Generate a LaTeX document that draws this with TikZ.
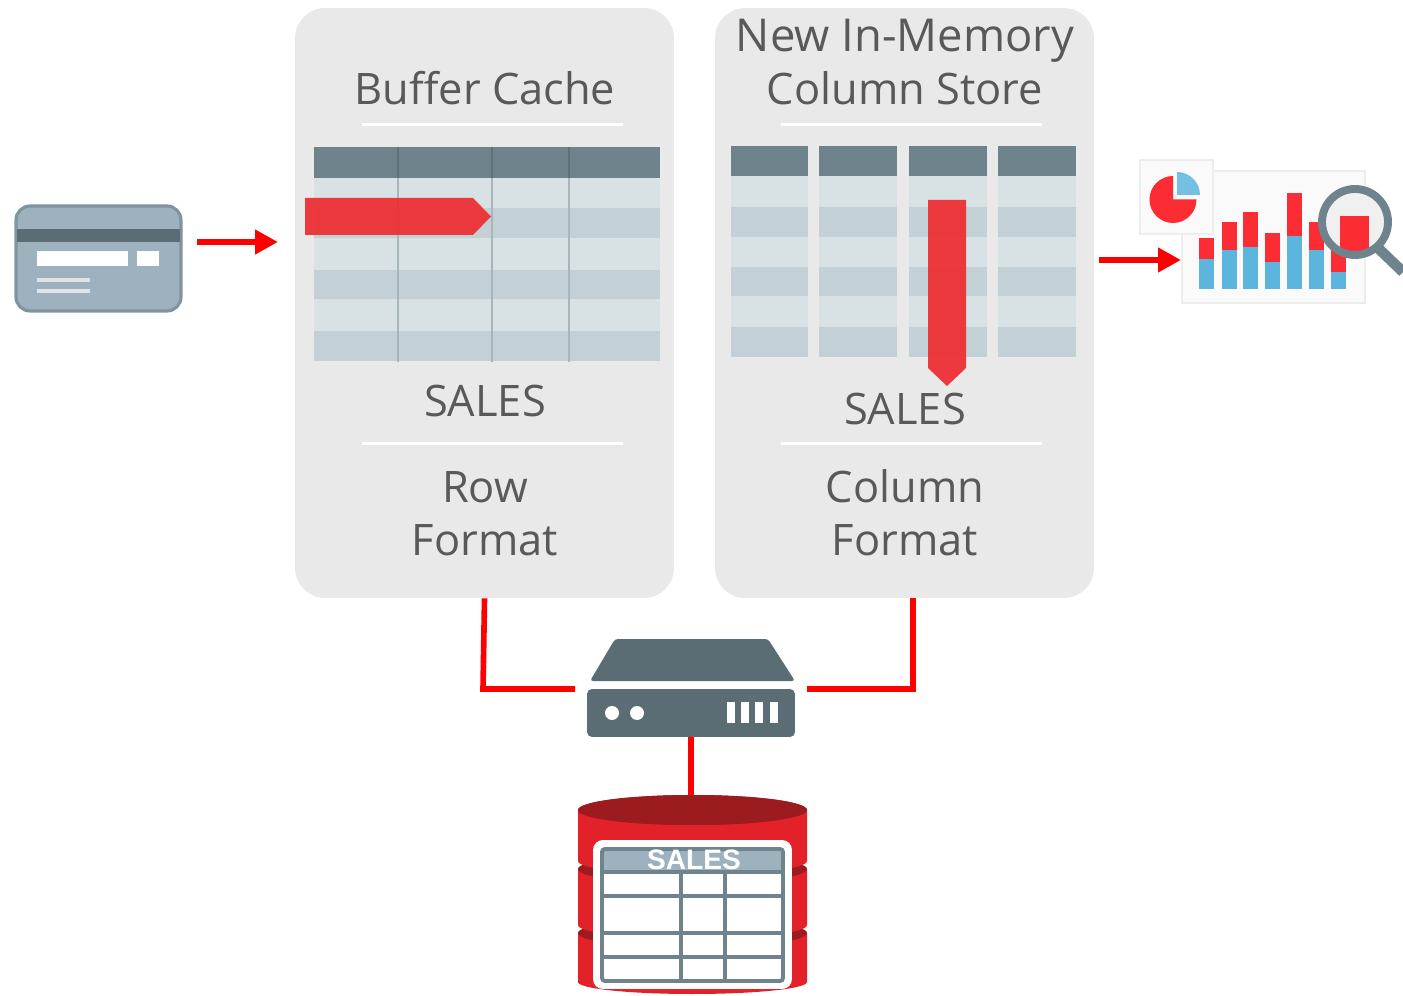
\documentclass[tikz,border=0pt]{standalone}
\usepackage{fontspec}
\setmainfont{Open Sans}
\newfontfamily\tablefont{Liberation Sans}
\usetikzlibrary{arrows.meta,shapes.geometric}
\definecolor{panelgrey}{HTML}{E9E9E9}
\definecolor{inkgrey}{HTML}{595959}
\definecolor{headslate}{HTML}{6F838C}
\definecolor{rowlight}{HTML}{D8E1E4}
\definecolor{rowdark}{HTML}{C3D1D6}
\definecolor{markred}{HTML}{EE3035}
\definecolor{iconslate}{HTML}{5A6C74}
\definecolor{cardblue}{HTML}{9DB2BE}
\definecolor{cardedge}{HTML}{7F949C}
\definecolor{barred}{HTML}{FB2C33}
\definecolor{barblue}{HTML}{5BB5DD}
\definecolor{dbred}{HTML}{E32129}
\definecolor{dbdark}{HTML}{9B1B1E}
\tikzstyle{panelstyle} = [shape=rectangle, rounded corners=0.6cm, fill=panelgrey, minimum width=7.58cm, minimum height=11.8cm, inner sep=0pt]
\tikzstyle{labelstyle} = [font=\fontsize{24.7}{30}\selectfont, text=inkgrey, inner sep=0pt, anchor=base]
\tikzstyle{rulestyle} = [draw=white, line width=1.9pt]
\tikzstyle{wirestyle} = [draw=red, line width=3.2pt]
\tikzstyle{flowstyle} = [draw=red, line width=3.8pt, -{Triangle[length=0.46cm,width=0.47cm]}]
\tikzstyle{markstyle} = [fill=markred, fill opacity=0.95]
\tikzstyle{gridstyle} = [draw=headslate, line width=2.2pt]

\begin{document}
\begin{tikzpicture}[x=0.02cm,y=-0.02cm]
\useasboundingbox (0,0) rectangle (1403,996);

% panels
\node[panelstyle] (rowpanel) at (484.5,303) {};
\node[panelstyle] (colpanel) at (904.5,303) {};

\node[labelstyle] (rowtitle) at (485,105) {Buffer Cache};
\node[labelstyle, font=\fontsize{25.8}{30}\selectfont] (coltitlea) at (905,52) {New In-Memory};
\node[labelstyle] (coltitleb) at (905,105) {Column Store};
\node[labelstyle] (rowsales) at (485,417) {SALES};
\node[labelstyle] (colsales) at (905,425) {SALES};
\node[labelstyle] (rowfmta) at (485,503) {Row};
\node[labelstyle] (rowfmtb) at (485,556) {Format};
\node[labelstyle] (colfmta) at (905,503) {Column};
\node[labelstyle] (colfmtb) at (905,556) {Format};

\foreach \y in {124.5,443.5} {
  \draw[rulestyle] (362,\y) -- (623,\y);
  \draw[rulestyle] (781,\y) -- (1042,\y);
}

% row table
\fill[rowlight] (314,178) rectangle (660,361);
\foreach \a/\b in {208/238,270/299,331/361}
  \fill[rowdark] (314,\a) rectangle (660,\b);
\fill[headslate] (314,147) rectangle (660,178);
\foreach \x in {398,492,569}
  \draw[headslate!35!rowdark, line width=0.8pt] (\x,178) -- (\x,362);
\foreach \x in {398,492,569}
  \draw[iconslate!80!headslate, line width=0.8pt] (\x,147) -- (\x,178);
\fill[markstyle] (305,198) -- (473,198) -- (491,216.5) -- (473,235) -- (305,235) -- cycle;

% column table
\foreach \a/\b in {731/808,819/897,909/987,998/1076} {
  \fill[rowlight] (\a,176) rectangle (\b,357);
  \foreach \c/\d in {207/237,267/296,327/357}
    \fill[rowdark] (\a,\c) rectangle (\b,\d);
  \fill[headslate] (\a,146) rectangle (\b,176);
}
\fill[markstyle] (928,200) -- (966,200) -- (966,368) -- (947,386) -- (928,368) -- cycle;

% card
\node[shape=rectangle, rounded corners=0.28cm, fill=cardblue, draw=cardedge, line width=1.8pt, minimum width=3.3cm, minimum height=2.1cm] (card) at (98.5,258.5) {};
\fill[iconslate] (17,229) rectangle (180,242);
\fill[white] (37,251) rectangle (128,266);
\fill[white] (137,251) rectangle (159,266);
\fill[white!65!cardblue] (37,278) rectangle (90,282);
\fill[white!65!cardblue] (37,289) rectangle (90,293);

% chart
\node[shape=rectangle, fill=black!2, draw=black!7, line width=1pt, minimum width=3.66cm, minimum height=2.64cm] (chart) at (1273.5,237) {};
\node[shape=rectangle, fill=black!2, draw=black!7, line width=1pt, minimum width=1.46cm, minimum height=1.48cm] (piebox) at (1176.5,197) {};
\fill[barred] (1196.5,199.5) arc (0:270:23.5) -- (1173,199.5) -- cycle;
\fill[barblue!85!white] (1177,195) -- (1200,195) arc (0:-90:23) -- cycle;
\foreach \x/\a/\b in {1199/238/259,1222/222/250,1243/212/247,1265/233/262,1287/193/236,1309/222/250,1331/250/272} {
  \fill[barred] (\x,\a) rectangle (\x+15,\b);
  \fill[barblue] (\x,\b) rectangle (\x+15,289);
}
\begin{scope}
\clip (1355,222) circle (33);
\fill[black!6] (1355,222) circle (33);
\fill[barred] (1340,216) rectangle (1369,252);
\end{scope}
\draw[headslate, line width=4.5pt] (1355,222) circle (33);
\draw[headslate, line width=6pt] (1378,248) -- (1403,272);

% server
\node[shape=rectangle, rounded corners=0.1cm, fill=iconslate, minimum width=4.16cm, minimum height=0.96cm, inner sep=0pt] (server) at (691,713) {};
\fill[iconslate, rounded corners=0.06cm] (590,681) -- (615,639) -- (768,639) -- (795,681) -- cycle;
\foreach \x in {612,637}
  \fill[white] (\x,713) circle (7);
\foreach \x in {727,741,755,770}
  \fill[white] (\x,702) rectangle (\x+8,723);

% connectors
\coordinate (rowelbow) at (483,689);
\coordinate (srvleft) at (575,689);
\coordinate (srvright) at (807,689);
\coordinate (colelbow) at (913,689);
\coordinate (colout) at (913,598);
\coordinate (cardout) at (197,242);
\coordinate (rowin) at (278,242);
\coordinate (colstart) at (1099,260);
\coordinate (chartin) at (1181,260);
\coordinate (dbin) at (691,800);
\draw[flowstyle] (cardout) -- (rowin);
\draw[flowstyle] (colstart) -- (chartin);
\draw[wirestyle] (rowpanel.south) -- (rowelbow) -- (srvleft);
\draw[wirestyle] (srvright) -- (colelbow) -- (colout);
\draw[wirestyle] (server.south) -- (dbin);

% database
\foreach \a/\b/\c in {933/982/12,869/925/14,810/861/14} {
  \fill[dbred] (578,\a) -- (578,\b) arc (180:0:114.5 and \c) -- (807,\a) -- cycle;
  \fill[dbdark] (692.5,\a) ellipse (114.5 and 15);
}
\node[shape=ellipse, fill=dbdark, minimum width=4.58cm, minimum height=0.6cm, inner sep=0pt] (dbtop) at (692.5,810) {};
\node[shape=rectangle, rounded corners=0.2cm, fill=white, minimum width=3.98cm, minimum height=2.98cm] (salestable) at (692.5,914.5) {};
\fill[cardblue] (602,849) rectangle (783,872);
\draw[gridstyle, rounded corners=0.06cm] (602,849) rectangle (783,981);
\foreach \y in {872,896,933,957}
  \draw[gridstyle] (602,\y) -- (783,\y);
\foreach \x in {681,725}
  \draw[gridstyle] (\x,872) -- (\x,981);
\node[font=\tablefont\bfseries\fontsize{16}{18}\selectfont, text=white, inner sep=0pt] (salesname) at (694,860) {SALES};
\end{tikzpicture}
\end{document}
